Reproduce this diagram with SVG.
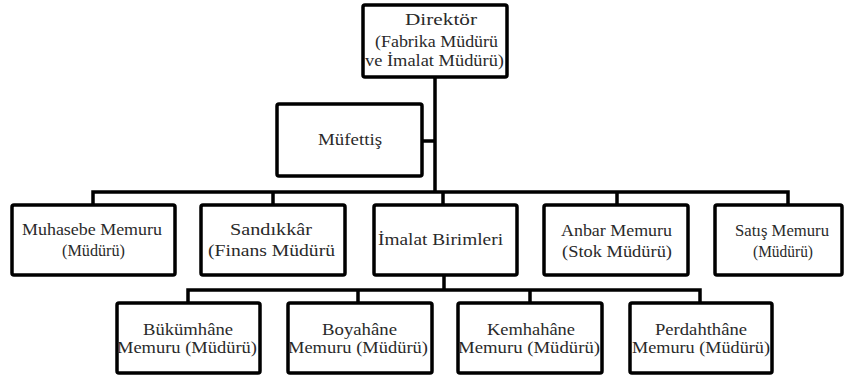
<svg xmlns="http://www.w3.org/2000/svg" width="849" height="376" viewBox="0 0 849 376" font-family="'Liberation Serif', 'DejaVu Serif', serif">
<style>
.box{fill:#fff;stroke:#000;stroke-width:3.5}
text{font-family:'Liberation Serif','DejaVu Serif',serif;font-size:17px;fill:#2a2a2a;text-anchor:middle}
.c{fill:none;stroke:#000;stroke-width:3.5;stroke-linecap:square}
</style>
<rect width="849" height="376" fill="#fff"/>
<g id="connectors">
<path class="c" d="M435,77V192M422,141H435M93,205V192H788V205M273,192V205M443,192V205M617,192V205"/>
<path class="c" d="M444,275V290M188,303V290H700V303M358,290V303M530,290V303"/>
</g>
<g id="direktor">
<rect class="box" x="363" y="5" width="144" height="72" rx="2"/>
<text x="441" y="25" textLength="72" lengthAdjust="spacingAndGlyphs">Direktör</text>
<text x="436.5" y="47" textLength="123" lengthAdjust="spacingAndGlyphs">(Fabrika Müdürü</text>
<text x="434.5" y="66" textLength="139" lengthAdjust="spacingAndGlyphs">ve İmalat Müdürü)</text>
</g>
<g id="mufettis">
<rect class="box" x="277" y="104" width="145" height="72" rx="2"/>
<text x="350" y="145" textLength="64" lengthAdjust="spacingAndGlyphs">Müfettiş</text>
</g>
<g id="muhasebe">
<rect class="box" x="12" y="205" width="163" height="70" rx="2"/>
<text x="92" y="235" textLength="140" lengthAdjust="spacingAndGlyphs">Muhasebe Memuru</text>
<text x="93.5" y="256" textLength="63" lengthAdjust="spacingAndGlyphs">(Müdürü)</text>
</g>
<g id="sandikkar">
<rect class="box" x="201" y="205" width="144" height="70" rx="2"/>
<text x="271" y="235" textLength="82" lengthAdjust="spacingAndGlyphs">Sandıkkâr</text>
<text x="271.5" y="256" textLength="127" lengthAdjust="spacingAndGlyphs">(Finans Müdürü</text>
</g>
<g id="imalat">
<rect class="box" x="374" y="205" width="143" height="70" rx="2"/>
<text x="440.5" y="245" textLength="125" lengthAdjust="spacingAndGlyphs">İmalat Birimleri</text>
</g>
<g id="anbar">
<rect class="box" x="544" y="205" width="144" height="70" rx="2"/>
<text x="616.5" y="236" textLength="111" lengthAdjust="spacingAndGlyphs">Anbar Memuru</text>
<text x="617" y="257" textLength="110" lengthAdjust="spacingAndGlyphs">(Stok Müdürü)</text>
</g>
<g id="satis">
<rect class="box" x="715" y="205" width="127" height="70" rx="2"/>
<text x="782" y="236" textLength="94" lengthAdjust="spacingAndGlyphs">Satış Memuru</text>
<text x="783" y="257" textLength="60" lengthAdjust="spacingAndGlyphs">(Müdürü)</text>
</g>
<g id="bukumhane">
<rect class="box" x="117" y="303" width="143" height="70" rx="2"/>
<text x="188" y="335" textLength="90" lengthAdjust="spacingAndGlyphs">Bükümhâne</text>
<text x="187" y="353" textLength="140" lengthAdjust="spacingAndGlyphs">Memuru (Müdürü)</text>
</g>
<g id="boyahane">
<rect class="box" x="288" y="303" width="144" height="70" rx="2"/>
<text x="359.5" y="335" textLength="75" lengthAdjust="spacingAndGlyphs">Boyahâne</text>
<text x="358" y="353" textLength="140" lengthAdjust="spacingAndGlyphs">Memuru (Müdürü)</text>
</g>
<g id="kemhahane">
<rect class="box" x="458" y="303" width="144" height="70" rx="2"/>
<text x="531" y="335" textLength="88" lengthAdjust="spacingAndGlyphs">Kemhahâne</text>
<text x="529" y="353" textLength="142" lengthAdjust="spacingAndGlyphs">Memuru (Müdürü)</text>
</g>
<g id="perdahthane">
<rect class="box" x="630" y="303" width="142" height="70" rx="2"/>
<text x="701" y="335" textLength="92" lengthAdjust="spacingAndGlyphs">Perdahthâne</text>
<text x="701" y="353" textLength="138" lengthAdjust="spacingAndGlyphs">Memuru (Müdürü)</text>
</g>
</svg>
